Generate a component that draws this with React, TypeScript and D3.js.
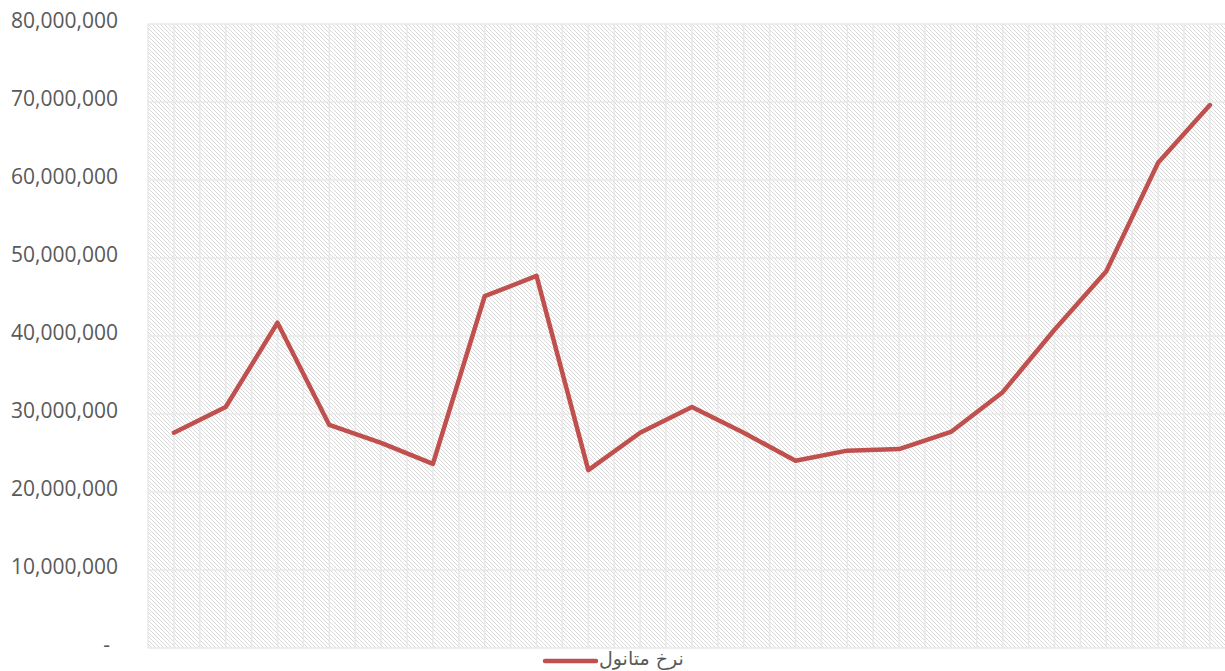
import React from 'react';
import * as d3 from 'd3';

const W = 1225;
const H = 671;
const MARGIN = { top: 24, left: 148, bottom: 23 };
const BAND = 51.8;

const categories = d3.range(1, 22).map(String);
const values = [
  27600000, 30900000, 41700000, 28600000, 26300000, 23600000, 45100000, 47700000,
  22800000, 27600000, 30900000, 27600000, 24000000, 25300000, 25500000, 27700000,
  32800000, 40800000, 48300000, 62200000, 69600000,
];
const yTicks = [0, 10000000, 20000000, 30000000, 40000000, 50000000, 60000000, 70000000, 80000000];
const seriesName = 'نرخ متانول';
const LINE_COLOR = '#c0504d';

export default function App() {
  const innerW = BAND * categories.length;
  const innerH = H - MARGIN.top - MARGIN.bottom;
  const x = d3.scaleBand<string>().domain(categories).range([MARGIN.left, MARGIN.left + innerW]);
  const y = d3.scaleLinear().domain([0, 80000000]).range([MARGIN.top + innerH, MARGIN.top]);
  const fmt = d3.format(',');

  const line = d3
    .line<number>()
    .x((_, i) => (x(categories[i]) ?? 0) + x.bandwidth() / 2)
    .y((d) => y(d));

  // vertical grid every half category
  const vGrid = d3.range(0, categories.length * 2 + 1).map((i) => MARGIN.left + (i * x.bandwidth()) / 2);

  return (
    <svg width={W} height={H} style={{ position: 'absolute', left: 0, top: 0 }}>
      <defs>
        <pattern id="hatch" width={4} height={4} patternUnits="userSpaceOnUse">
          <rect width={4} height={4} fill="#ffffff" />
          <rect x={0} y={0} width={1} height={1} fill="#d9d9d9" />
          <rect x={1} y={1} width={1} height={1} fill="#d9d9d9" />
          <rect x={2} y={2} width={1} height={1} fill="#d9d9d9" />
          <rect x={3} y={3} width={1} height={1} fill="#d9d9d9" />
        </pattern>
      </defs>
      <rect x={0} y={0} width={W} height={H} fill="#ffffff" />
      <rect x={MARGIN.left} y={MARGIN.top} width={innerW} height={innerH} fill="url(#hatch)" />

      {vGrid.map((gx, i) => (
        <line key={i} x1={gx} x2={gx} y1={MARGIN.top} y2={MARGIN.top + innerH} stroke="#e8e8e8" strokeWidth={1.5} />
      ))}
      {yTicks.map((t) => (
        <line key={t} x1={MARGIN.left} x2={MARGIN.left + innerW} y1={y(t)} y2={y(t)} stroke="#e8e8e8" strokeWidth={1.5} />
      ))}

      {yTicks.map((t) => (
        <text
          key={t}
          x={t === 0 ? 110 : 118}
          y={y(t) - 2}
          dominantBaseline="middle"
          textAnchor="end"
          fontFamily="'Open Sans', sans-serif"
          fontSize={21}
          fill="#595959"
        >
          {t === 0 ? '-' : fmt(t)}
        </text>
      ))}

      <path d={line(values) ?? ''} fill="none" stroke={LINE_COLOR} strokeWidth={4.5} strokeLinejoin="round" strokeLinecap="round" />

      {/* legend */}
      <line x1={545} x2={596} y1={661} y2={661} stroke={LINE_COLOR} strokeWidth={4.5} strokeLinecap="round" />
      <text x={599} y={665} fontFamily="'DejaVu Sans', sans-serif" fontSize={19} fill="#595959" textAnchor="start">
        {seriesName}
      </text>
    </svg>
  );
}
